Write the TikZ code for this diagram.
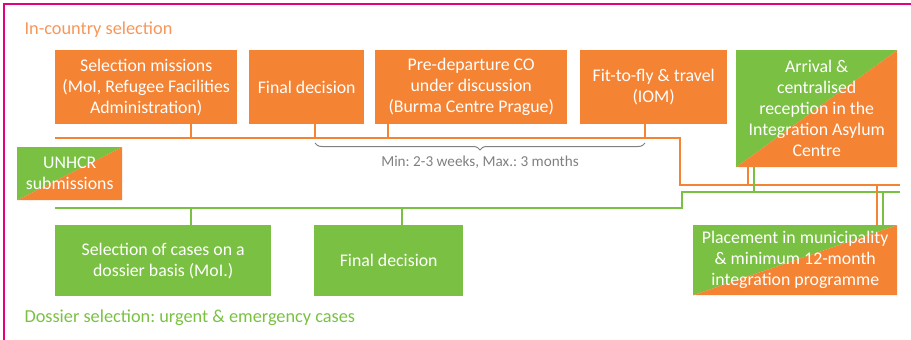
\documentclass[tikz,border=0pt]{standalone}
\usepackage{fontspec}
\setmainfont{Carlito}
\frenchspacing
\usetikzlibrary{calc, positioning, decorations.pathreplacing}
\definecolor{corange}{RGB}{244,131,52}
\definecolor{cgreen}{RGB}{122,193,67}
\definecolor{ctorange}{RGB}{247,150,90}
\definecolor{ctgreen}{RGB}{122,193,67}
\definecolor{cframe}{RGB}{230,0,126}
\definecolor{cgray}{RGB}{128,128,128}
\tikzset{
  box/.style={text=white, align=center, inner sep=2pt, anchor=north west,
    font=\fontsize{17.8}{21}\selectfont},
  obox/.style={box, fill=corange},
  gbox/.style={box, fill=cgreen},
  splitbox/.style={box, path picture={
    \fill[cgreen] (path picture bounding box.south west) -- (path picture bounding box.north west)
      -- (path picture bounding box.north east) -- cycle;
    \fill[corange] (path picture bounding box.south west) -- (path picture bounding box.south east)
      -- (path picture bounding box.north east) -- cycle;}},
  oline/.style={draw=corange, line width=2pt},
  gline/.style={draw=cgreen, line width=2pt},
  title/.style={anchor=west, font=\fontsize{18.3}{21}\selectfont},
}

\begin{document}
\begin{tikzpicture}[x=1pt,y=-1pt]
\useasboundingbox (0,0) rectangle (911,340);
\draw[cframe, line width=1.2pt] (4,340) -- (4,4) -- (911,4);

\node[title, text=ctorange] (incountry) at (21,30) {In-country selection};
\node[title, text=ctgreen] (dossier) at (21,318) {Dossier selection: urgent \& emergency cases};

% in-country boxes
\node[obox, minimum width=182pt, minimum height=74pt] (selmis) at (55,50)
  {Selection missions\\(MoI, Refugee Facilities\\Administration)};
\node[obox, minimum width=115pt, minimum height=74pt] (finalo) at (249,50) {Final decision};
\node[obox, minimum width=192pt, minimum height=74pt] (predep) at (375,50)
  {Pre-departure CO\\under discussion\\(Burma Centre Prague)};
\node[obox, minimum width=147pt, minimum height=74pt] (fitfly) at (580,50)
  {Fit-to-fly \& travel\\(IOM)};
\node[splitbox, minimum width=161pt, minimum height=117pt] (arrival) at (736,50)
  {Arrival \&\\centralised\\reception in the\\Integration Asylum\\Centre};

% dossier boxes
\node[splitbox, minimum width=105pt, minimum height=53pt] (unhcr) at (17,147) {UNHCR\\submissions};
\node[gbox, minimum width=216pt, minimum height=71pt] (selcase) at (55,225)
  {Selection of cases on a\\dossier basis (MoI.)};
\node[gbox, minimum width=149pt, minimum height=71pt] (finalg) at (314,225) {Final decision};
\node[splitbox, minimum width=204pt, minimum height=70pt] (placement) at (693,225)
  {Placement in municipality\\\& minimum 12-month\\integration programme};

% time lines
\coordinate (oL) at (55,138);
\coordinate (oK) at (680,138);
\coordinate (oR) at (900,185);
\coordinate (gL) at (55,208);
\coordinate (gK) at (682,208);
\coordinate (gR) at (900,192);
\draw[oline] (oL) -- (oK) |- (oR);
\draw[gline] (gL) -- (gK) |- (gR);

\foreach \nd/\xx in {selmis/191, finalo/315, predep/388, fitfly/645}
  \draw[oline] (\nd.south -| \xx,0) -- (\xx,138);
\foreach \nd/\xx in {selcase/191, finalg/402}
  \draw[gline] (\nd.north -| \xx,0) -- (\xx,208);
\draw[oline] (arrival.south -| 748,0) -- (748,185);
\draw[gline] (arrival.south -| 754,0) -- (754,192);
\draw[oline] (placement.north -| 877,0) -- (877,185);
\draw[gline] (placement.north -| 883,0) -- (883,192);

\draw[cgray, line width=1pt, decorate, decoration={brace, mirror, amplitude=7pt}] (315,143) -- (645,143);
\node[text=cgray, font=\fontsize{15.2}{17}\selectfont] (span) at (480,162) {Min: 2-3 weeks, Max.: 3 months};

\end{tikzpicture}
\end{document}
